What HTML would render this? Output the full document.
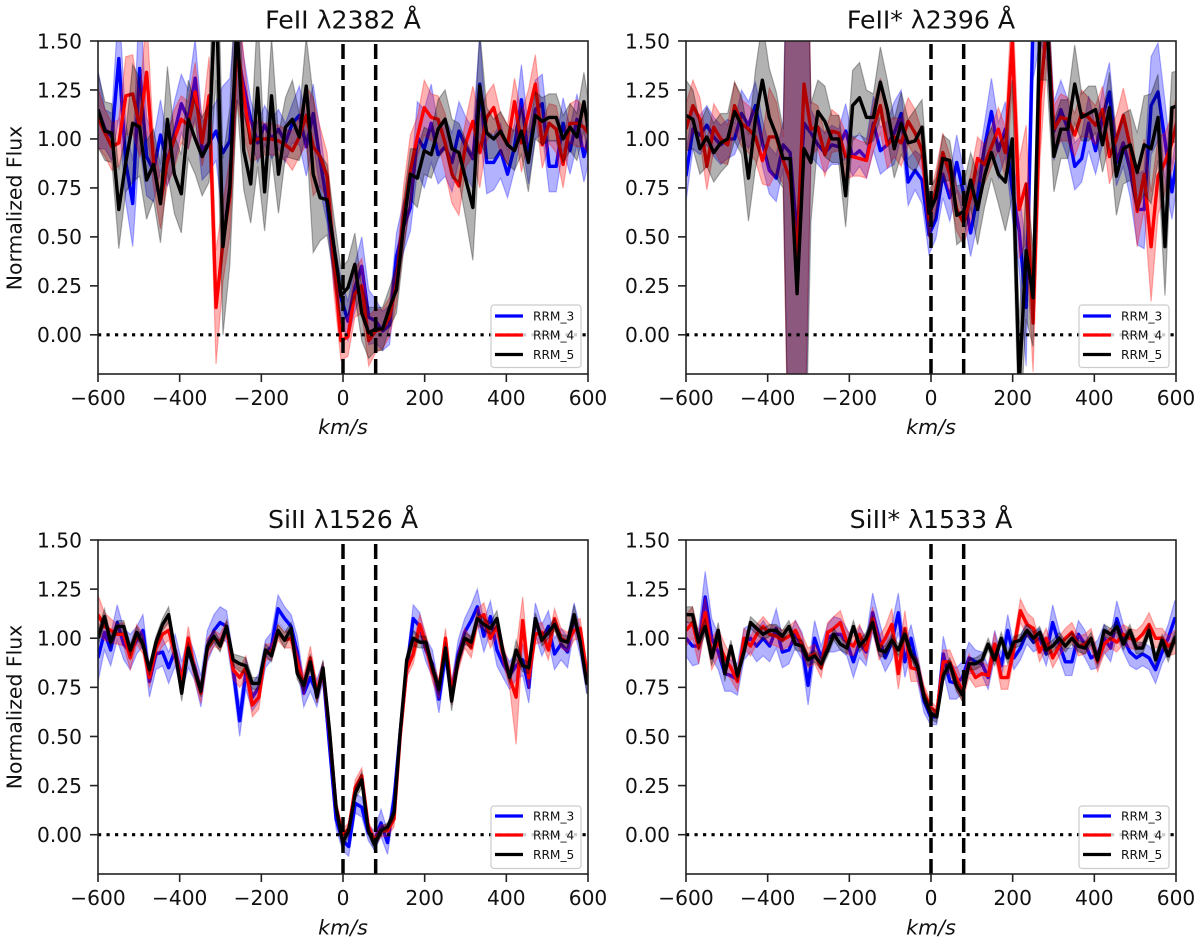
<!DOCTYPE html>
<html lang="en">
<head>
<meta charset="utf-8">
<title>Normalized flux profiles</title>
<style>
html,body{margin:0;padding:0;background:#fff;width:1200px;height:942px;overflow:hidden}
svg{display:block;filter:blur(0.35px)}
text{font-family:"DejaVu Sans","Liberation Sans",sans-serif;fill:#111}
.tick{font-size:20.2px}
.title{font-size:25.2px;text-anchor:middle}
.axis-label{font-size:20.4px;text-anchor:middle}
.x-label{font-size:20.6px;font-style:italic;text-anchor:middle}
.leg{font-size:12.2px}
.spine{fill:none;stroke:#222;stroke-width:1.6}
.legend-box{fill:#fff;fill-opacity:.8;stroke:#ccc;stroke-width:1.2}
</style>
</head>
<body>
<svg id="figure" width="1200" height="942" viewBox="0 0 1200 942" xmlns="http://www.w3.org/2000/svg">
<defs>
<clipPath id="clip-0"><rect x="98" y="41" width="490" height="333"/></clipPath>
<clipPath id="clip-1"><rect x="686" y="41" width="490" height="333"/></clipPath>
<clipPath id="clip-2"><rect x="98" y="540" width="490" height="334"/></clipPath>
<clipPath id="clip-3"><rect x="686" y="540" width="490" height="334"/></clipPath>
</defs>

<g>
<g id="marks-0" clip-path="url(#clip-0)"></g>
<g id="ticks-0"></g>
<rect class="spine" x="98" y="41" width="490" height="333"/>
<text class="title" x="343" y="28.5">FeII λ2382 Å</text>
<text class="axis-label" transform="translate(21.5 208) rotate(-90)">Normalized Flux</text>
<text class="x-label" x="343" y="434">km/s</text>
<g>
<rect class="legend-box" x="491" y="305" width="90" height="62.5" rx="3"/>
<line x1="495" x2="523" y1="316" y2="316" stroke="#0000ff" stroke-width="3.2"/>
<text class="leg" x="533" y="320.5">RRM_3</text>
<line x1="495" x2="523" y1="335" y2="335" stroke="#ff0000" stroke-width="3.2"/>
<text class="leg" x="533" y="339.5">RRM_4</text>
<line x1="495" x2="523" y1="354.5" y2="354.5" stroke="#000" stroke-width="3.2"/>
<text class="leg" x="533" y="359">RRM_5</text>
</g>
</g>

<g>
<g id="marks-1" clip-path="url(#clip-1)"></g>
<g id="ticks-1"></g>
<rect class="spine" x="686" y="41" width="490" height="333"/>
<text class="title" x="931" y="28.5">FeII* λ2396 Å</text>
<text class="x-label" x="931" y="434">km/s</text>
<g>
<rect class="legend-box" x="1079" y="305" width="90" height="62.5" rx="3"/>
<line x1="1083" x2="1111" y1="316" y2="316" stroke="#0000ff" stroke-width="3.2"/>
<text class="leg" x="1121" y="320.5">RRM_3</text>
<line x1="1083" x2="1111" y1="335" y2="335" stroke="#ff0000" stroke-width="3.2"/>
<text class="leg" x="1121" y="339.5">RRM_4</text>
<line x1="1083" x2="1111" y1="354.5" y2="354.5" stroke="#000" stroke-width="3.2"/>
<text class="leg" x="1121" y="359">RRM_5</text>
</g>
</g>

<g>
<g id="marks-2" clip-path="url(#clip-2)"></g>
<g id="ticks-2"></g>
<rect class="spine" x="98" y="540" width="490" height="334"/>
<text class="title" x="343" y="528">SiII λ1526 Å</text>
<text class="axis-label" transform="translate(21.5 707) rotate(-90)">Normalized Flux</text>
<text class="x-label" x="343" y="934.5">km/s</text>
<g>
<rect class="legend-box" x="491" y="806" width="90" height="62.5" rx="3"/>
<line x1="495" x2="523" y1="816" y2="816" stroke="#0000ff" stroke-width="3.2"/>
<text class="leg" x="533" y="820.5">RRM_3</text>
<line x1="495" x2="523" y1="835" y2="835" stroke="#ff0000" stroke-width="3.2"/>
<text class="leg" x="533" y="839.5">RRM_4</text>
<line x1="495" x2="523" y1="854.5" y2="854.5" stroke="#000" stroke-width="3.2"/>
<text class="leg" x="533" y="859">RRM_5</text>
</g>
</g>

<g>
<g id="marks-3" clip-path="url(#clip-3)"></g>
<g id="ticks-3"></g>
<rect class="spine" x="686" y="540" width="490" height="334"/>
<text class="title" x="931" y="528">SiII* λ1533 Å</text>
<text class="x-label" x="931" y="934.5">km/s</text>
<g>
<rect class="legend-box" x="1079" y="806" width="90" height="62.5" rx="3"/>
<line x1="1083" x2="1111" y1="816" y2="816" stroke="#0000ff" stroke-width="3.2"/>
<text class="leg" x="1121" y="820.5">RRM_3</text>
<line x1="1083" x2="1111" y1="835" y2="835" stroke="#ff0000" stroke-width="3.2"/>
<text class="leg" x="1121" y="839.5">RRM_4</text>
<line x1="1083" x2="1111" y1="854.5" y2="854.5" stroke="#000" stroke-width="3.2"/>
<text class="leg" x="1121" y="859">RRM_5</text>
</g>
</g>
</svg>

<script>
// Velocity grids (km/s)
const velocityFe = [-600,-583,-566,-549,-532,-515,-498,-481,-464,-447,-430,-413,-396,-379,-362,-345,-328,-311,-294,-277,-260,-243,-226,-209,-192,-175,-158,-141,-124,-107,-90,-73,-56,-39,-22,-5,12,29,46,63,80,97,114,131,148,165,182,199,216,233,250,267,284,301,318,335,352,369,386,403,420,437,454,471,488,505,522,539,556,573,590,607];
const velocitySi = [-600,-584,-569,-553,-537,-521,-505,-490,-474,-458,-442,-427,-411,-395,-379,-364,-348,-332,-316,-301,-285,-269,-253,-238,-222,-206,-190,-175,-159,-143,-127,-112,-96,-80,-64,-49,-33,-17,-1,14,30,46,62,77,93,109,125,140,156,172,188,203,219,235,251,266,282,298,314,329,345,361,377,392,408,424,440,455,471,487,503,518,534,550,566,581,597,613];

// Axis ticks and reference lines
const xTickValues = [-600,-400,-200,0,200,400,600];
const xTickLabels = ['−600','−400','−200','0','200','400','600'];
const yTickValues = [0,0.25,0.5,0.75,1,1.25,1.5];
const yTickLabels = ['0.00','0.25','0.50','0.75','1.00','1.25','1.50'];
const markerVelocities = [0,80];
const baselineFlux = 0;

// FeII 2382
const fe2382Rrm3 = [1.15,1.05,1.01,1.41,.88,.67,1.36,.91,.84,1.02,.88,1.03,1.18,1.1,1.31,.94,.98,1.04,.93,.99,1.45,1.27,1.1,.98,1.07,1.0,1.05,.98,1.08,1.12,.96,1.13,.89,.67,.36,.19,.07,.24,.35,.09,.07,.02,.05,.40,.55,.65,1.01,.95,1.08,.92,.96,.88,1.04,.96,.90,1.28,.88,.88,.94,.82,.96,1.2,.91,1.15,1.18,.86,.86,1.08,.94,1.1,.91,1.05];
const fe2382Rrm4 = [1.11,1.03,.96,.98,1.22,1.23,1.06,1.34,.88,.67,.89,1.0,1.1,1.07,1.24,.98,1.22,.14,.47,.71,1.49,1.22,.98,1.0,1.0,1.0,.99,.97,.94,1.01,1.12,.96,.91,.81,.36,-.03,-.01,.21,.25,-.03,.02,.03,.09,.26,.6,.84,1.01,1.16,1.11,1.1,.98,.82,.76,.98,1.09,.93,1.11,1.16,1.03,.97,1.19,.98,1.13,1.28,.97,1.08,1.05,.87,1.08,1.08,1.06,1.01];
const fe2382Rrm5 = [1.15,1.04,1.03,.64,.88,1.08,1.06,.79,.87,.67,1.10,.82,.72,1.10,1.0,.91,.98,1.8,.45,.76,1.6,.94,.77,1.26,.73,1.22,.82,1.06,1.1,1.01,1.27,.82,.7,.69,.45,.2,.24,.36,.11,.01,.03,.03,.14,.23,.55,.82,.80,.94,.92,1.05,1.10,.95,.93,.79,.65,1.27,1.03,1.0,1.04,.97,.94,1.04,.88,1.12,1.09,1.11,1.11,1.0,1.06,1.01,1.19,.96];
const fe2382Err3 = [.20,.10,.12,.30,.20,.22,.40,.20,.16,.18,.12,.16,.15,.15,.20,.15,.15,.15,.34,.32,.25,.15,.10,.10,.10,.10,.10,.10,.10,.15,.15,.15,.15,.10,.12,.10,.10,.12,.15,.14,.11,.10,.10,.12,.13,.12,.18,.20,.20,.15,.15,.15,.15,.15,.15,.25,.16,.14,.14,.12,.12,.18,.14,.15,.15,.13,.13,.13,.12,.13,.13,.12];
const fe2382Err4 = [.15,.12,.12,.12,.20,.20,.15,.30,.12,.13,.12,.15,.12,.12,.15,.12,.20,.29,.20,.20,.30,.20,.10,.10,.08,.08,.08,.08,.10,.10,.15,.25,.15,.12,.15,.10,.10,.12,.14,.13,.11,.10,.10,.10,.15,.18,.10,.14,.12,.12,.15,.15,.15,.12,.18,.18,.12,.12,.10,.10,.12,.15,.12,.15,.12,.10,.12,.12,.10,.12,.10,.10];
const fe2382Err5 = [.19,.15,.15,.20,.15,.30,.25,.20,.18,.20,.27,.20,.20,.20,.18,.20,.20,.50,.45,.40,.40,.20,.20,.40,.20,.30,.20,.15,.20,.12,.25,.40,.22,.18,.15,.14,.14,.16,.14,.13,.11,.11,.10,.12,.13,.13,.15,.12,.12,.15,.15,.15,.15,.20,.27,.28,.13,.10,.10,.10,.10,.12,.15,.12,.12,.12,.12,.12,.12,.12,.15,.15];

// FeII* 2396
const fe2396Rrm3 = [.81,1.05,1.02,1.07,1.01,.97,1.0,1.0,1.13,1.07,1.17,.98,.84,.8,.97,.93,.5,1.08,1.03,.97,.93,.97,.96,1.04,.91,.94,.9,1.08,.94,.97,1.03,1.13,.78,.84,.79,.51,.59,.82,.7,.88,.72,.52,.71,.96,1.14,.94,1.05,.74,.53,.14,1.6,1.7,1.6,1.04,1.15,1.05,.86,.9,1.08,.94,1.11,1.24,.88,.98,.84,.64,.64,1.17,1.24,.99,.73,.96];
const fe2396Rrm4 = [1.05,1.17,1.1,.86,1.06,1.0,.97,1.17,1.08,1.05,1.01,.89,1.01,1.01,.89,.79,.4,1.28,1.05,1.06,.92,1.04,1.03,.91,.91,.9,.89,1.06,1.17,.97,1.01,.98,1.09,1.03,.94,.59,.74,.93,.82,.64,.57,.7,.9,.87,.96,1.05,.93,1.5,.64,.77,.06,1.2,1.6,1.05,1.11,1.1,1.02,1.13,1.11,1.07,1.15,.91,1.0,1.12,.96,.63,.82,.45,.81,.88,.98,1.13];
const fe2396Rrm5 = [1.12,1.1,.95,1.01,.93,.98,1.0,1.14,1.07,.8,1.1,1.3,1.11,1.02,.9,.9,.21,.95,.88,1.14,1.09,1.0,1.0,.71,1.17,1.21,1.11,1.11,1.29,1.15,.95,1.08,.98,.99,1.06,.62,.7,.9,.89,.61,.63,.79,.64,.81,.93,.82,.78,1.0,-.25,.43,.19,1.6,1.6,.91,1.05,1.05,1.28,1.11,1.13,1.15,.97,1.16,.81,.95,.97,.83,.97,.95,1.11,.45,1.16,1.17];
const fe2396Err3 = [.13,.10,.10,.10,.10,.10,.10,.08,.12,.12,.12,.12,.12,.12,.12,2,2,2,.12,.10,.10,.10,.09,.14,.10,.08,.10,.14,.12,.12,.16,.12,.12,.10,.12,.10,.10,.12,.12,.14,.12,.12,.14,.12,.17,.14,.14,.14,.2,.3,.3,.2,.2,.15,.15,.15,.12,.12,.14,.12,.14,.15,.12,.12,.14,.18,.2,.25,.25,.2,.14,.14];
const fe2396Err4 = [.13,.13,.11,.12,.12,.12,.10,.12,.12,.12,.12,.12,.25,.18,.12,2,2,2,.14,.11,.11,.11,.09,.12,.10,.09,.09,.12,.14,.12,.10,.12,.12,.12,.10,.10,.10,.10,.10,.11,.11,.12,.11,.10,.10,.11,.13,.25,.25,.3,.25,.3,.2,.12,.12,.11,.11,.12,.1,.1,.12,.14,.12,.14,.14,.18,.18,.28,.2,.15,.14,.14];
const fe2396Err5 = [.18,.15,.13,.15,.15,.15,.13,.15,.15,.22,.25,.30,.25,.22,.15,2,2,2,.3,.16,.18,.12,.12,.16,.18,.18,.14,.12,.18,.15,.15,.16,.12,.16,.14,.12,.10,.12,.10,.15,.14,.14,.18,.16,.13,.15,.25,.30,.30,.35,.25,.3,.3,.18,.15,.15,.2,.12,.14,.12,.14,.18,.2,.18,.18,.2,.25,.28,.22,.25,.18,.18];

// SiII 1526
const si1526Rrm3 = [.90,1.03,.94,1.08,.97,.93,.99,1.04,.78,.92,.93,.85,.94,.80,.93,.86,.73,.96,1.04,1.08,1.06,.84,.58,.82,.70,.75,.92,.96,1.15,1.10,1.06,.93,.72,.80,.72,.83,.45,.08,-.03,-.06,.16,.14,.01,-.03,.06,-.04,.18,.52,.84,1.1,1.06,.94,.87,.69,.92,.72,.92,1.03,1.09,1.16,1.01,1.11,.94,.87,.81,.86,.89,.75,1.1,.99,1.06,.92,.97,.93,1.11,.98,.79,.8];
const si1526Rrm4 = [1.12,1.06,1.04,1.02,1.02,.90,1.02,.97,.80,.95,1.02,1.04,.92,.78,1.0,.84,.72,.95,1.0,.98,1.05,.84,.80,.85,.66,.70,.93,.93,1.03,.99,1.0,.88,.76,.90,.72,.84,.52,.14,.0,.03,.24,.30,.04,-.03,.02,.02,.08,.50,.84,.92,1.07,.97,.83,.74,1.0,.72,.88,1.0,.95,1.1,1.12,1.0,1.06,.92,.80,.70,1.09,.80,1.02,1.03,.94,1.1,1.0,.98,1.04,1.05,.82,.8];
const si1526Rrm5 = [1.0,1.11,.98,1.06,1.06,.94,1.03,.97,.84,.98,1.07,1.12,.93,.72,.95,.84,.73,.96,1.01,.96,1.06,.89,.87,.86,.77,.77,.94,.91,1.04,.99,1.05,.82,.76,.88,.70,.85,.53,.14,-.04,.02,.21,.28,.02,-.05,.02,.04,.11,.52,.89,1.0,.98,.98,.85,.74,.95,.68,.89,1.0,.98,1.1,1.07,1.05,1.1,.93,.8,.94,.86,.85,1.1,.99,1.03,1.07,.99,.98,1.12,.98,.77,.76];
const si1526Err3 = [.12,.09,.08,.09,.08,.09,.07,.08,.08,.08,.07,.08,.08,.08,.08,.07,.08,.08,.08,.08,.08,.07,.08,.08,.07,.07,.07,.07,.07,.06,.06,.08,.07,.07,.07,.05,.05,.05,.05,.05,.05,.05,.04,.05,.07,.06,.06,.06,.05,.07,.07,.06,.07,.07,.06,.06,.07,.07,.08,.09,.08,.08,.08,.07,.07,.07,.08,.08,.08,.08,.08,.08,.08,.08,.07,.07,.07,.07];
const si1526Err4 = [.10,.07,.06,.05,.06,.06,.05,.05,.05,.05,.06,.05,.05,.05,.06,.05,.05,.05,.04,.04,.04,.05,.05,.06,.06,.06,.04,.04,.04,.04,.05,.05,.05,.06,.05,.04,.04,.04,.03,.03,.04,.04,.03,.03,.03,.03,.04,.04,.04,.05,.05,.05,.05,.05,.05,.06,.05,.05,.05,.05,.06,.05,.05,.05,.05,.24,.12,.06,.05,.05,.05,.05,.05,.05,.05,.05,.05,.05];
const si1526Err5 = [.04,.04,.03,.03,.03,.03,.03,.03,.03,.03,.03,.04,.03,.04,.03,.03,.03,.03,.03,.03,.03,.03,.04,.04,.03,.03,.03,.03,.03,.04,.03,.03,.03,.04,.03,.04,.03,.03,.03,.03,.03,.04,.02,.03,.02,.02,.03,.03,.03,.04,.03,.03,.03,.03,.03,.05,.03,.03,.03,.03,.03,.03,.04,.03,.03,.05,.03,.03,.03,.03,.03,.03,.03,.03,.05,.03,.05,.04];

// SiII* 1533
const si1533Rrm3 = [1.0,.96,.96,1.21,1.0,.93,.82,.81,.79,.97,1.0,.96,1.0,.96,1.05,.93,.94,1.02,.96,.76,1.0,.90,1.0,1.02,1.02,.98,.88,.98,.93,1.13,1.0,.90,.98,1.13,.88,1.0,.85,.68,.6,.60,.92,.78,.77,.80,.90,.88,.87,.80,.97,.86,1.04,.90,.95,1.03,.98,1.0,.92,1.08,.97,.88,.88,1.02,.97,.90,.92,1.0,.95,1.1,1.0,.93,.90,.92,.90,.84,.93,1.0,1.1,1.1];
const si1533Rrm4 = [1.04,1.08,.95,1.13,.92,.98,.90,.85,.78,1.0,.96,1.02,1.06,1.02,1.01,.99,1.01,1.04,.97,.90,.92,.85,1.03,1.05,1.08,.98,.96,1.02,.94,1.1,.95,1.0,1.07,.82,1.05,.85,.84,.72,.65,.62,.88,.88,.80,.73,.86,.80,.82,.81,.97,.80,.80,.95,1.14,1.07,1.05,.93,1.0,.90,.96,1.0,1.03,.96,.97,1.0,.88,.97,1.0,.98,1.02,1.0,.99,1.02,1.07,1.0,1.0,.96,.98,1.0];
const si1533Rrm5 = [1.12,1.12,.98,1.06,.90,1.04,.82,.96,.81,.93,1.08,1.05,1.02,1.04,1.04,1.01,1.06,.97,.96,.89,.91,.87,.94,1.02,.97,.95,1.06,.96,1.0,1.08,.94,.93,.99,.94,1.02,.92,.86,.70,.62,.60,.81,.87,.76,.71,.87,.87,.89,.97,.89,1.0,.90,.98,.99,1.04,1.0,1.03,.94,.96,1.0,.96,1.0,.96,.95,1.0,.89,1.04,1.02,1.06,.97,1.04,.95,.95,1.04,.89,.99,.91,1.0,1.04];
const si1533Err3 = [.09,.10,.09,.13,.10,.09,.09,.08,.08,.08,.07,.08,.09,.08,.10,.08,.07,.07,.07,.10,.09,.06,.07,.09,.08,.07,.08,.08,.07,.10,.09,.07,.09,.10,.08,.07,.07,.06,.04,.04,.09,.09,.08,.08,.08,.06,.06,.06,.07,.06,.08,.06,.06,.06,.05,.05,.06,.09,.07,.07,.07,.07,.07,.06,.07,.07,.07,.09,.07,.07,.06,.06,.06,.07,.06,.07,.09,.09];
const si1533Err4 = [.08,.08,.08,.08,.08,.07,.07,.06,.05,.05,.05,.05,.05,.05,.05,.05,.05,.05,.05,.05,.05,.05,.05,.06,.06,.06,.05,.05,.05,.06,.06,.06,.08,.08,.09,.07,.06,.04,.03,.03,.06,.06,.06,.05,.06,.05,.06,.05,.06,.06,.06,.05,.06,.06,.05,.05,.05,.05,.05,.05,.05,.05,.05,.05,.05,.05,.05,.05,.05,.05,.05,.05,.06,.05,.05,.05,.06,.06];
const si1533Err5 = [.04,.04,.04,.04,.04,.04,.04,.03,.03,.03,.03,.03,.03,.03,.03,.03,.03,.03,.03,.03,.03,.03,.03,.03,.03,.03,.03,.03,.03,.03,.03,.03,.03,.03,.03,.03,.03,.03,.03,.03,.03,.03,.03,.03,.03,.03,.03,.03,.03,.03,.03,.03,.03,.03,.03,.03,.03,.03,.03,.03,.03,.03,.03,.03,.03,.03,.03,.03,.03,.03,.03,.03,.03,.03,.03,.03,.03,.03];

const NS = 'http://www.w3.org/2000/svg';
const X_MIN = -600, X_MAX = 600, Y_MIN = -0.2, Y_MAX = 1.5;

const panels = [
  {left:98,  top:41,  right:588,  bottom:374, velocity:velocityFe,
   series:[[fe2382Rrm3,fe2382Err3],[fe2382Rrm4,fe2382Err4],[fe2382Rrm5,fe2382Err5]]},
  {left:686, top:41,  right:1176, bottom:374, velocity:velocityFe,
   series:[[fe2396Rrm3,fe2396Err3],[fe2396Rrm4,fe2396Err4],[fe2396Rrm5,fe2396Err5]]},
  {left:98,  top:540, right:588,  bottom:874, velocity:velocitySi,
   series:[[si1526Rrm3,si1526Err3],[si1526Rrm4,si1526Err4],[si1526Rrm5,si1526Err5]]},
  {left:686, top:540, right:1176, bottom:874, velocity:velocitySi,
   series:[[si1533Rrm3,si1533Err3],[si1533Rrm4,si1533Err4],[si1533Rrm5,si1533Err5]]}
];
const seriesColors = ['#0000ff','#ff0000','#000000'];
const seriesNames = ['rrm-3','rrm-4','rrm-5'];

function xScale(p, v){ return p.left + (v - X_MIN) / (X_MAX - X_MIN) * (p.right - p.left); }
function yScale(p, f){ return p.top + (Y_MAX - f) / (Y_MAX - Y_MIN) * (p.bottom - p.top); }

panels.forEach(function(p, pi){
  const marks = document.getElementById('marks-' + pi);
  const ticks = document.getElementById('ticks-' + pi);

  p.series.forEach(function(s, si){
    const vals = s[0], errs = s[1], color = seriesColors[si];
    const upper = [], lower = [], mid = [];
    vals.forEach(function(f, i){
      const x = xScale(p, p.velocity[i]).toFixed(2);
      upper.push(x + ',' + yScale(p, f + errs[i]).toFixed(2));
      lower.unshift(x + ',' + yScale(p, f - errs[i]).toFixed(2));
      mid.push(x + ',' + yScale(p, f).toFixed(2));
    });
    const band = document.createElementNS(NS, 'polygon');
    
    
    band.setAttribute('points', upper.concat(lower).join(' '));
    band.setAttribute('fill', color);
    band.setAttribute('fill-opacity', '0.3');
    band.setAttribute('stroke', color);
    band.setAttribute('stroke-opacity', '0.3');
    band.setAttribute('stroke-width', '1.2');
    marks.appendChild(band);
    const line = document.createElementNS(NS, 'polyline');
    
    
    line.setAttribute('data-series', seriesNames[si]);
    line.setAttribute('points', mid.join(' '));
    line.setAttribute('fill', 'none');
    line.setAttribute('stroke', color);
    line.setAttribute('stroke-width', '3.4');
    line.setAttribute('stroke-linejoin', 'round');
    marks.appendChild(line);
  });

  markerVelocities.forEach(function(v){
    const d = document.createElementNS(NS, 'line');
    
    
    d.setAttribute('x1', xScale(p, v));
    d.setAttribute('x2', xScale(p, v));
    d.setAttribute('y1', p.bottom);
    d.setAttribute('y2', p.top);
    d.setAttribute('stroke', '#000');
    d.setAttribute('stroke-width', '3.5');
    d.setAttribute('stroke-dasharray', '15 6');
    marks.appendChild(d);
  });

  const base = document.createElementNS(NS, 'line');
  
  
  base.setAttribute('x1', xScale(p, X_MIN));
  base.setAttribute('x2', xScale(p, X_MAX));
  base.setAttribute('y1', yScale(p, baselineFlux));
  base.setAttribute('y2', yScale(p, baselineFlux));
  base.setAttribute('stroke', '#000');
  base.setAttribute('stroke-width', '3.2');
  base.setAttribute('stroke-dasharray', '3.2 5.3');
  marks.appendChild(base);

  xTickValues.forEach(function(v, i){
    const x = xScale(p, v);
    const t = document.createElementNS(NS, 'line');
    
    
    t.setAttribute('x1', x); t.setAttribute('x2', x);
    t.setAttribute('y1', p.bottom); t.setAttribute('y2', p.bottom + 8);
    t.setAttribute('stroke', '#222'); t.setAttribute('stroke-width', '1.6');
    ticks.appendChild(t);
    const l = document.createElementNS(NS, 'text');
    
    
    l.setAttribute('class', 'tick');
    l.setAttribute('x', x); l.setAttribute('y', p.bottom + 31);
    l.setAttribute('text-anchor', 'middle');
    l.textContent = xTickLabels[i];
    ticks.appendChild(l);
  });

  yTickValues.forEach(function(f, i){
    const y = yScale(p, f);
    const t = document.createElementNS(NS, 'line');
    
    
    t.setAttribute('x1', p.left - 8); t.setAttribute('x2', p.left);
    t.setAttribute('y1', y); t.setAttribute('y2', y);
    t.setAttribute('stroke', '#222'); t.setAttribute('stroke-width', '1.6');
    ticks.appendChild(t);
    const l = document.createElementNS(NS, 'text');
    
    
    l.setAttribute('class', 'tick');
    l.setAttribute('x', p.left - 16); l.setAttribute('y', y + 7.3);
    l.setAttribute('text-anchor', 'end');
    l.textContent = yTickLabels[i];
    ticks.appendChild(l);
  });
});
</script>
</body>
</html>
